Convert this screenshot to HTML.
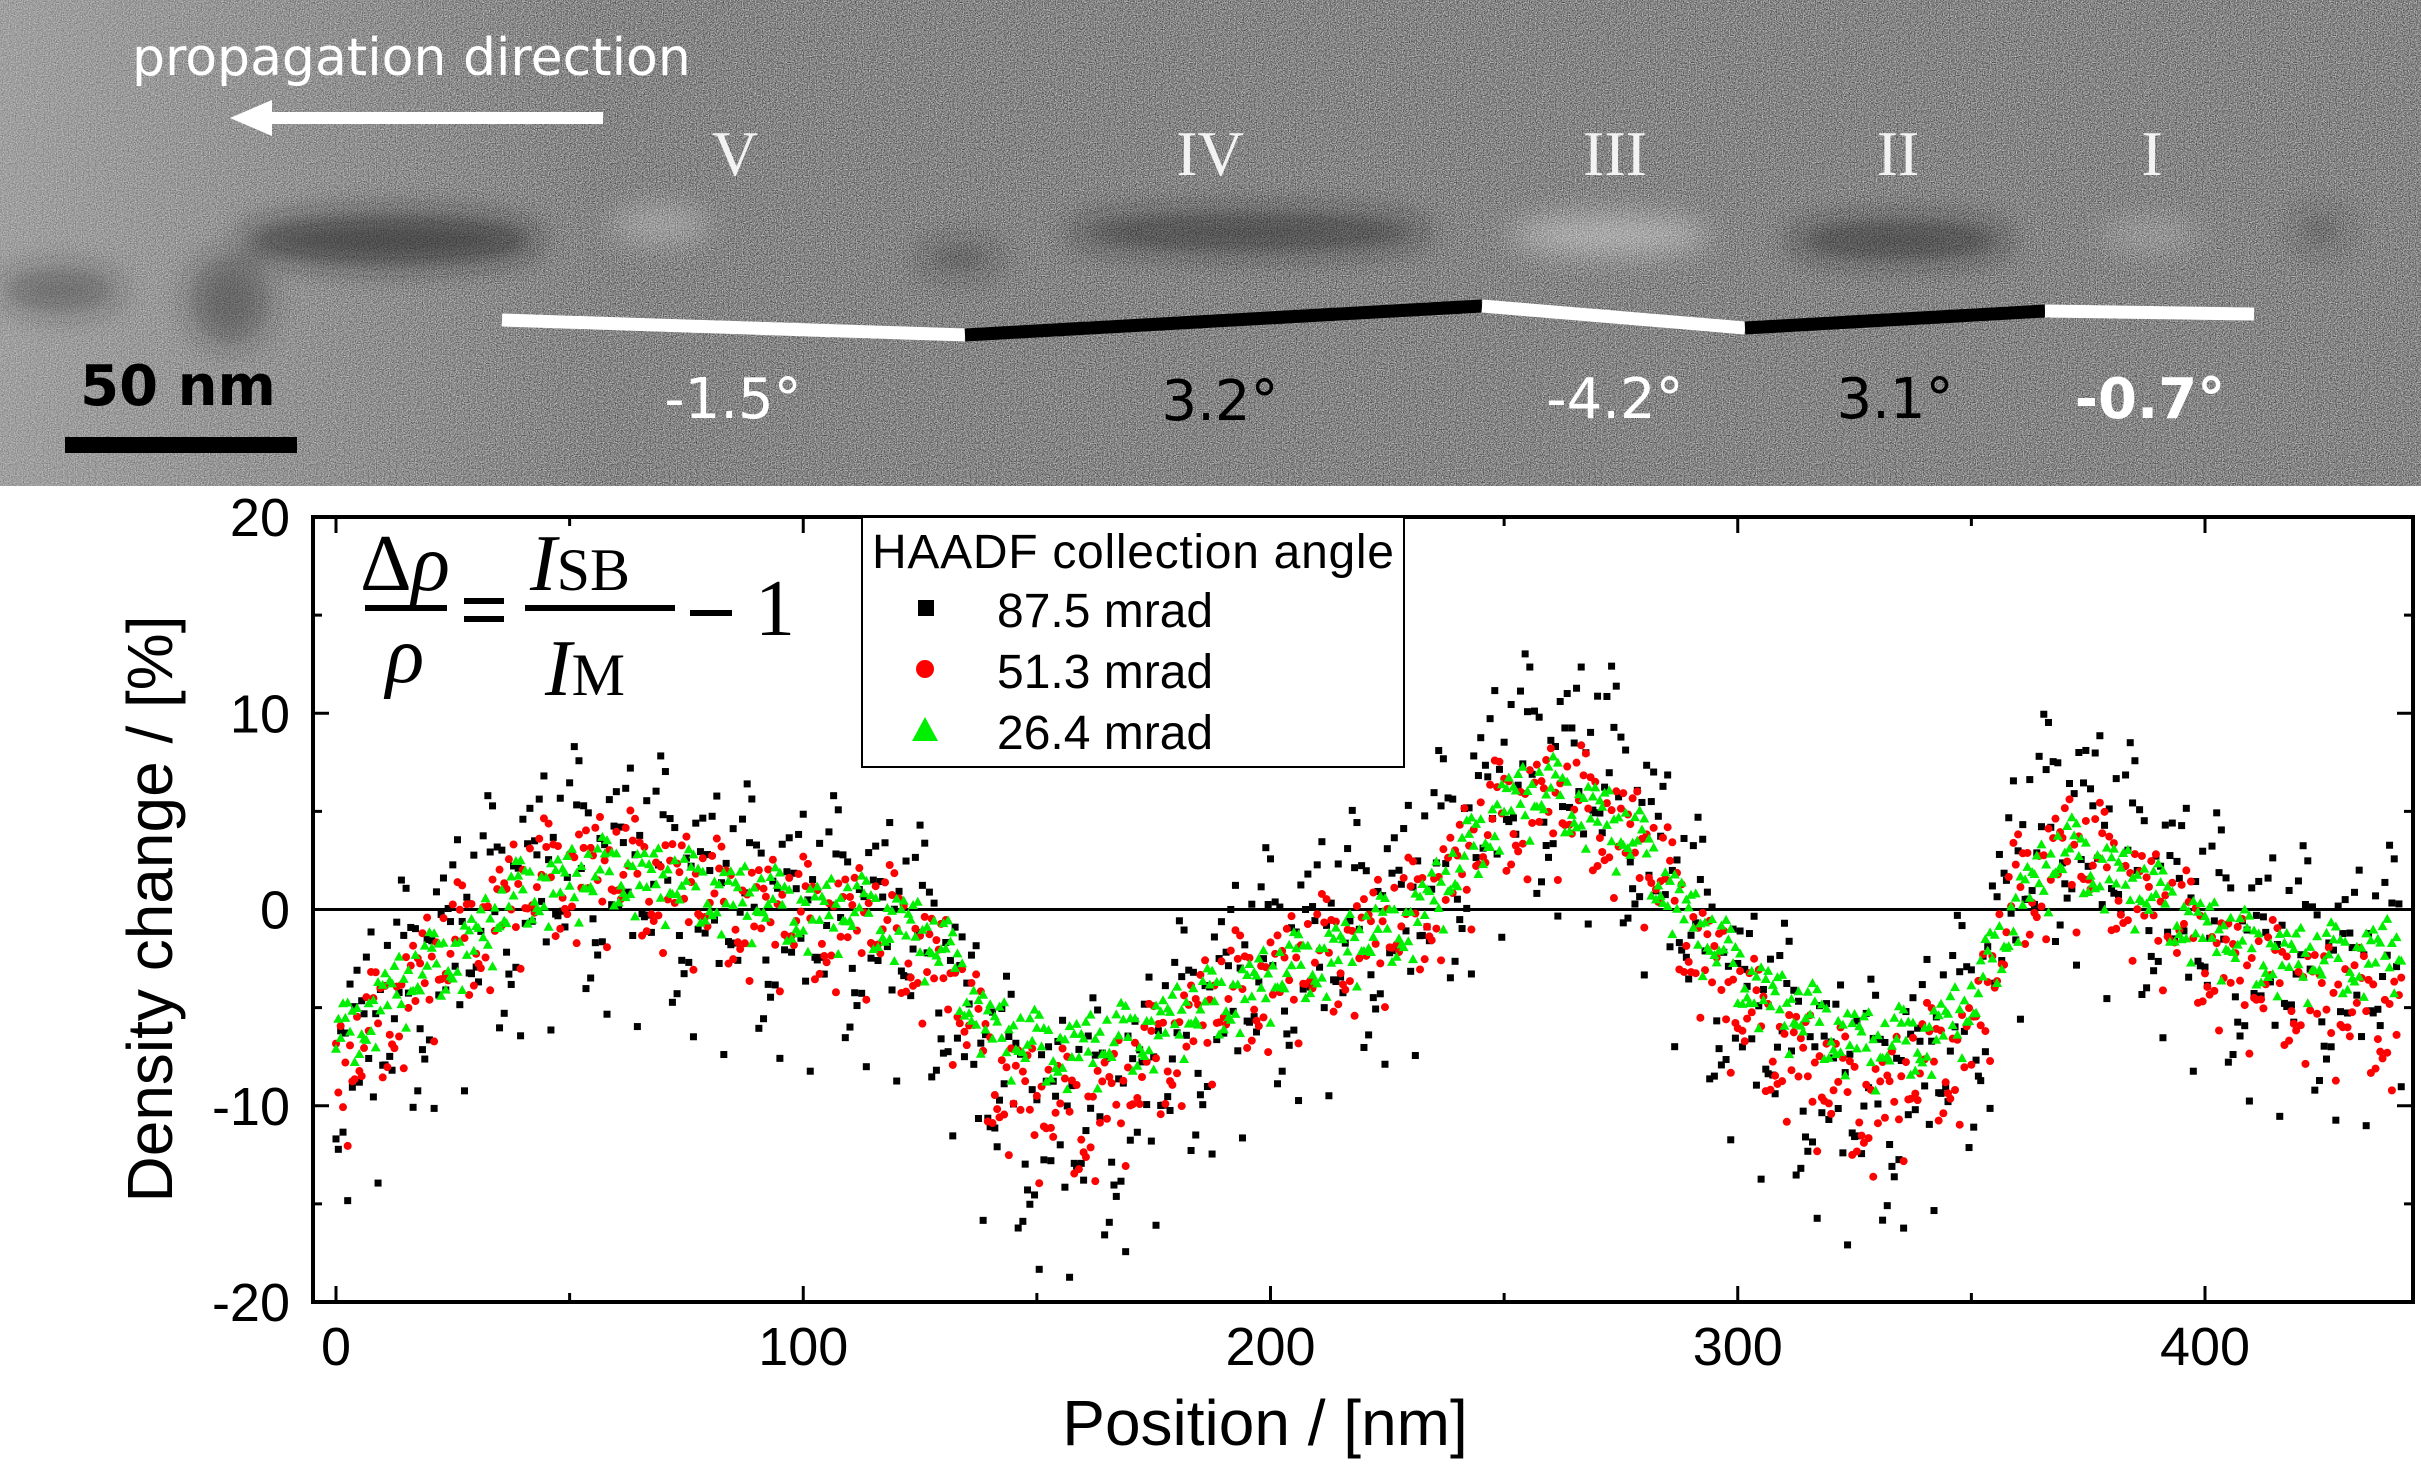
<!DOCTYPE html>
<html><head><meta charset="utf-8">
<style>
html,body{margin:0;padding:0;background:#fff;}
body{width:2421px;height:1464px;overflow:hidden;position:relative;font-family:"Liberation Sans",sans-serif;}
svg{position:absolute;left:0;top:0;}
</style></head>
<body>
<svg id="chart" width="2421" height="1464" xmlns="http://www.w3.org/2000/svg">
<defs>
<filter id="noise" x="0" y="0" width="100%" height="100%" color-interpolation-filters="sRGB">
<feTurbulence type="fractalNoise" baseFrequency="0.85" numOctaves="1" seed="3"/>
<feColorMatrix type="matrix" values="1.1 1.1 1.1 0 -1.15  1.1 1.1 1.1 0 -1.15  1.1 1.1 1.1 0 -1.15  0 0 0 0 1"/>
</filter>
<filter id="blur" x="-50%" y="-50%" width="200%" height="200%"><feGaussianBlur stdDeviation="14"/></filter>
<linearGradient id="leftlight" x1="0" x2="1" y1="0" y2="0">
<stop offset="0" stop-color="#c0c0c0" stop-opacity="0.45"/>
<stop offset="1" stop-color="#c0c0c0" stop-opacity="0"/>
</linearGradient>
</defs>
<g>
<rect x="0" y="0" width="2421" height="486" filter="url(#noise)"/>
<rect x="0" y="0" width="2421" height="486" fill="#8a8a8a" opacity="0.5"/>
<rect x="0" y="0" width="600" height="486" fill="url(#leftlight)"/>
<g filter="url(#blur)">
<ellipse cx="390" cy="240" rx="150" ry="26" fill="#1a1a1a" opacity="0.6"/>
<ellipse cx="230" cy="300" rx="40" ry="45" fill="#2a2a2a" opacity="0.4"/>
<ellipse cx="60" cy="290" rx="60" ry="22" fill="#2a2a2a" opacity="0.4"/>
<ellipse cx="660" cy="225" rx="50" ry="18" fill="#d0d0d0" opacity="0.4"/>
<ellipse cx="1250" cy="232" rx="180" ry="20" fill="#1e1e1e" opacity="0.55"/>
<ellipse cx="960" cy="258" rx="40" ry="14" fill="#2a2a2a" opacity="0.4"/>
<ellipse cx="1610" cy="235" rx="100" ry="20" fill="#e0e0e0" opacity="0.45"/>
<ellipse cx="1900" cy="240" rx="110" ry="20" fill="#1e1e1e" opacity="0.55"/>
<ellipse cx="2150" cy="235" rx="50" ry="15" fill="#d0d0d0" opacity="0.3"/>
<ellipse cx="2320" cy="230" rx="25" ry="18" fill="#2a2a2a" opacity="0.3"/>
</g>
<text x="132" y="75" fill="#fff" font-family="'DejaVu Sans',sans-serif" font-size="52">propagation direction</text>
<polygon points="603,112 272,112 272,100 230,118 272,136 272,124 603,124" fill="#fff"/>
<g fill="#f2f2f2" font-family="'Liberation Serif',serif" font-size="64" text-anchor="middle">
<text x="735" y="175">V</text><text x="1210" y="175">IV</text><text x="1615" y="175">III</text><text x="1898" y="175">II</text><text x="2152" y="175">I</text>
</g>
<g stroke-width="13">
<line x1="502" y1="320" x2="965" y2="335" stroke="#fff"/>
<line x1="965" y1="335" x2="1482" y2="306" stroke="#000"/>
<line x1="1482" y1="306" x2="1745" y2="328" stroke="#fff"/>
<line x1="1745" y1="328" x2="2045" y2="311" stroke="#000"/>
<line x1="2045" y1="311" x2="2254" y2="314" stroke="#fff"/>
</g>
<g font-family="'DejaVu Sans',sans-serif" font-size="56" text-anchor="middle">
<text x="733" y="418" fill="#fff">-1.5°</text>
<text x="1220" y="420" fill="#000">3.2°</text>
<text x="1615" y="418" fill="#fff">-4.2°</text>
<text x="1895" y="418" fill="#000">3.1°</text>
<text x="2150" y="418" fill="#fff" font-weight="bold">-0.7°</text>
</g>
<text x="178" y="405" text-anchor="middle" fill="#000" font-family="'DejaVu Sans',sans-serif" font-weight="bold" font-size="56">50 nm</text>
<rect x="65" y="437" width="232" height="16" fill="#000"/>
</g>
<g id="plot"></g>
</svg>
<script>
// Data (trend values every 10 nm, 0..440 nm)
const positionsNm = [0,10,20,30,40,50,60,70,80,90,100,110,120,130,140,150,160,170,180,190,200,210,220,230,240,250,260,270,280,290,300,310,320,330,340,350,360,370,380,390,400,410,420,430,440];
const black875 = [-8,-6,-3,-1,1,2,2,1.5,0.5,0,-0.5,-0.5,-1,-3,-9,-11,-11,-10,-7,-4.5,-3,-2,-1,0,3,6.5,7,7,4,-1,-5,-7,-9,-10,-8,-6,2,5,3,1,-1,-2.5,-3,-3.5,-3];
const red513 = [-9,-5.5,-3,-1,1,2,2,1.5,0.5,0,-0.5,-0.5,-1,-3,-8,-10,-10.5,-9,-6.5,-4.5,-3.5,-2.5,-1.5,-0.5,2,5,5.5,5,3,-1,-5,-7,-9,-10,-8,-7,1,3,2,0,-2,-3.5,-4,-5,-5.5];
const green264 = [-7,-4.5,-3,-1.5,1,1.5,2,1.5,1,0.5,0,0,-0.5,-2,-6,-7,-7,-6.5,-5.5,-4.5,-3.5,-2.5,-1.5,-0.5,2,5.5,6,5,3,-0.5,-3,-5,-6,-7,-6.5,-5,0.5,3,2,0.5,-1,-2,-2.5,-2.5,-2];
const xTicks = [0,100,200,300,400];
const yTicks = [-20,-10,0,10,20];
const seriesNames = ["87.5 mrad","51.3 mrad","26.4 mrad"];
// fixed scatter pattern (fraction of spread) used to show point dispersion
const scatterPattern = [0.12,-0.63,0.91,-0.18,0.37,-0.94,0.71,-0.42,0.03,0.56,-0.77,0.29,-0.08,0.83,-0.51,0.21,-0.33,0.64,-0.86,0.47,-0.25,0.05,0.98,-0.69,0.15,-0.12,0.41,-0.55,0.76,-0.02,0.33,-0.81,0.58,-0.37,0.09,-0.97,0.26];

const L=313,R=2413,T=517,B=1302;
const xs = v => 336 + v*(2205-336)/400;
const ys = v => 909.5 - v*(B-T)/40;
const NS="http://www.w3.org/2000/svg";
const plot=document.getElementById('plot');
function mk(tag,attrs,parent){const e=document.createElementNS(NS,tag);for(const k in attrs)e.setAttribute(k,attrs[k]);(parent||plot).appendChild(e);return e;}
function trendAt(arr,x){const i=Math.min(Math.floor(x/10),arr.length-2);const f=(x-positionsNm[i])/10;return arr[i]*(1-f)+arr[i+1]*f;}

const zl=mk('line',{x1:L,x2:R,y1:ys(0),y2:ys(0),stroke:'#000','stroke-width':3});



function drawSeries(arr,spread,kind,name,off){
  const g=mk('g',{});
  
  
  let k=off;
  const n=scatterPattern.length;
  for(let x=0;x<=442;x+=0.5){
    const a=scatterPattern[k%n], b=scatterPattern[(k*11+5)%n];
    k++;
    const p=0.6*a+0.6*b;
    const v=trendAt(arr,Math.min(x,440))+p*spread;
    const cx=xs(x),cy=ys(v);
    let m;
    if(kind==='sq') m=mk('rect',{x:cx-3.5,y:cy-3.5,width:7,height:7,fill:'#000'},g);
    else if(kind==='ci') m=mk('circle',{cx:cx,cy:cy,r:4,fill:'#ff0000'},g);
    else m=mk('polygon',{points:`${cx},${cy-5} ${cx-5},${cy+4} ${cx+5},${cy+4}`,fill:'#00ee00'},g);
    
    
  }
}
drawSeries(black875,7.5,'sq','series-87-5-mrad',0);
drawSeries(red513,3.8,'ci','series-51-3-mrad',13);
drawSeries(green264,2.2,'tr','series-26-4-mrad',25);

const fr=mk('rect',{x:L,y:T,width:R-L,height:B-T,fill:'none',stroke:'#000','stroke-width':4});



for(let v=0;v<=440;v+=50){
  const len=(v%100===0)?16:9;
  const t1=mk('line',{x1:xs(v),x2:xs(v),y1:B,y2:B-len,stroke:'#000','stroke-width':3});
  
  
  const t2=mk('line',{x1:xs(v),x2:xs(v),y1:T,y2:T+len,stroke:'#000','stroke-width':3});
  
  
}
for(let v=-20;v<=20;v+=5){
  const len=(v%10===0)?16:9;
  const t1=mk('line',{x1:L,x2:L+len,y1:ys(v),y2:ys(v),stroke:'#000','stroke-width':3});
  
  
  const t2=mk('line',{x1:R,x2:R-len,y1:ys(v),y2:ys(v),stroke:'#000','stroke-width':3});
  
  
}
xTicks.forEach(v=>{
  const t=mk('text',{x:xs(v),y:1365,'text-anchor':'middle','font-size':54,fill:'#000'});
  t.textContent=v;
  
  
});
yTicks.forEach(v=>{
  const t=mk('text',{x:290,y:ys(v)+19,'text-anchor':'end','font-size':54,fill:'#000'});
  t.textContent=v;
  
  
});
const xt=mk('text',{x:1265,y:1445,'text-anchor':'middle','font-size':64,fill:'#000'});
xt.textContent='Position / [nm]';


const yt=mk('text',{x:0,y:0,'text-anchor':'middle','font-size':64,fill:'#000',transform:'translate(172,909) rotate(-90)'});
yt.textContent='Density change / [%]';



// equation
const eq=mk('g',{'font-family':"'Liberation Serif',serif",fill:'#000'});


mk('text',{x:405,y:590,'text-anchor':'middle','font-size':80},eq).innerHTML='Δ<tspan font-style="italic">ρ</tspan>';
mk('rect',{x:365,y:605,width:82,height:6},eq);
mk('text',{x:405,y:682,'text-anchor':'middle','font-size':80,'font-style':'italic'},eq).textContent='ρ';
mk('rect',{x:464,y:598,width:40,height:6},eq);mk('rect',{x:464,y:616,width:40,height:6},eq);
mk('text',{x:530,y:590,'font-size':80},eq).innerHTML='<tspan font-style="italic">I</tspan><tspan font-size="60">SB</tspan>';
mk('rect',{x:525,y:605,width:150,height:6},eq);
mk('text',{x:545,y:695,'font-size':80},eq).innerHTML='<tspan font-style="italic">I</tspan><tspan font-size="60">M</tspan>';
mk('rect',{x:690,y:610,width:42,height:6},eq);
mk('text',{x:755,y:635,'font-size':80},eq).textContent='1';

// legend
const lg=mk('g',{});


mk('rect',{x:862,y:517,width:542,height:250,fill:'#fff',stroke:'#000','stroke-width':2},lg);
const lt=mk('text',{x:872,y:568,'font-size':48,fill:'#000',textLength:522},lg);
lt.textContent='HAADF collection angle';


const ly=[627,688,749];
seriesNames.forEach((n,i)=>{
  const e=mk('g',{},lg);
  
  
  if(i===0) mk('rect',{x:918,y:ly[i]-27,width:16,height:16,fill:'#000'},e);
  else if(i===1) mk('circle',{cx:925,cy:ly[i]-19,r:9,fill:'#ff0000'},e);
  else mk('polygon',{points:`925,${ly[i]-32} 912,${ly[i]-8} 938,${ly[i]-8}`,fill:'#00ee00'},e);
  const t=mk('text',{x:997,y:ly[i],'font-size':48,fill:'#000'},e);
  t.textContent=n;
});
</script>
</body></html>
